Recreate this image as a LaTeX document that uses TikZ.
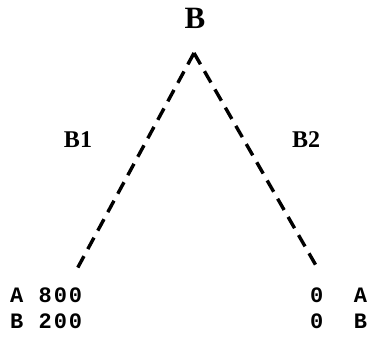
\documentclass[tikz,border=0pt]{standalone}
\usepackage{fontspec}
\setmainfont{Liberation Serif}
\setmonofont[LetterSpace=9]{Liberation Mono}
\begin{document}
\begin{tikzpicture}[x=1pt,y=-1pt,
  lbl/.style={font=\bfseries\fontsize{24}{24}\selectfont, inner sep=0pt},
  mono/.style={font=\ttfamily\bfseries\fontsize{22}{22}\selectfont, inner sep=0pt, anchor=base west},
  edge/.style={line width=3.4pt, dash pattern=on 13pt off 8pt}]
\useasboundingbox (0,0) rectangle (374,341);
\node[inner sep=0pt, font=\bfseries\fontsize{31}{31}\selectfont] (root) at (195,18) {B};
\coordinate (apex) at (194,53);
\coordinate (l) at (77,269);
\coordinate (r) at (318,269);
\draw[edge] (apex) -- (l);
\draw[edge] (apex) -- (r);
\node[lbl] (b1) at (78,140) {B1};
\node[lbl] (b2) at (306,140) {B2};
\node[mono] (la) at (10,302) {A 800};
\node[mono] (lb) at (10,328) {B 200};
\node[mono] (ra) at (310,302) {0\ \ A};
\node[mono] (rb) at (310,328) {0\ \ B};
\end{tikzpicture}
\end{document}
